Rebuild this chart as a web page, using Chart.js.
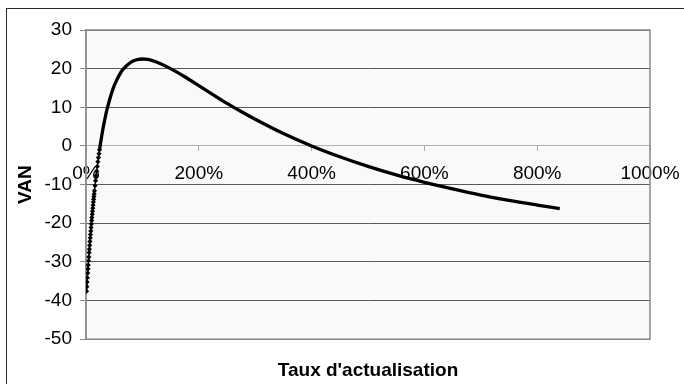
<!DOCTYPE html>
<html>
<head>
<meta charset="utf-8">
<script src="https://cdn.jsdelivr.net/npm/chart.js@4"></script>
<style>
  body { margin: 0; background: #fff; }
  #frame { position: absolute; left: 6px; top: 8px; width: 700px; height: 400px; border: 1.5px solid #2a2a2a; }
  #wrap { position: absolute; left: 0; top: 0; width: 684px; height: 384px; }
</style>
</head>
<body>
<div id="frame"></div>
<div id="wrap"><canvas id="chart"></canvas></div>
<script>
'use strict';

// taux d'actualisation (%) and VAN
const rates = [1, 1.5, 2, 2.5, 3, 3.5, 4, 4.5, 5, 5.5, 6, 6.5, 7, 7.5, 8, 8.5, 9, 9.5, 10, 10.5,
  11, 11.5, 12, 12.5, 13, 13.5, 14, 14.5, 15, 16, 17, 18, 19, 20, 21, 22, 23, 24, 25, 26,
  28, 30, 32, 34, 36, 38, 40, 45, 50, 55, 60, 65, 70, 80, 90, 100, 110, 125, 150, 175,
  200, 225, 250, 275, 300, 350, 400, 450, 500, 550, 600, 650, 700, 750, 800, 840];
const van = [-37.6, -36.4, -35.2, -34.1, -32.9, -31.8, -30.8, -29.7, -28.7, -27.6, -26.7, -25.7, -24.7, -23.8, -22.9, -22.0, -21.1, -20.2, -19.3, -18.5,
  -17.7, -16.9, -16.1, -15.3, -14.5, -13.8, -13.1, -12.4, -11.6, -10.3, -9.0, -7.7, -6.5, -5.3, -4.1, -3.0, -2.0, -1.0, 0, 0.9,
  2.7, 4.4, 5.9, 7.3, 8.7, 9.9, 11.0, 13.5, 15.6, 17.2, 18.6, 19.7, 20.5, 21.7, 22.3, 22.5, 22.4, 21.7, 20.0, 17.9,
  15.6, 13.3, 11.0, 8.9, 6.9, 3.2, 0, -2.8, -5.3, -7.5, -9.4, -11.1, -12.7, -14.1, -15.3, -16.2];

const xTicks = [0, 200, 400, 600, 800, 1000];
const yTicks = [-50, -40, -30, -20, -10, 0, 10, 20, 30];

const points = rates.map((r, i) => ({ x: r, y: van[i] }));
const steepEnd = 24;
const fontFamily = "'Liberation Sans', Arial, sans-serif";

const plotBox = {
  id: 'plotBox',
  beforeDraw(chart) {
    const a = chart.chartArea;
    const c = chart.ctx;
    c.save();
    c.fillStyle = '#f9f9f9';
    c.fillRect(a.left, a.top, a.width, a.height);
    c.restore();
  },
  beforeDatasetsDraw(chart) {
    const a = chart.chartArea;
    const c = chart.ctx;
    c.save();
    c.strokeStyle = '#8a8a8a';
    c.lineWidth = 1.5;
    c.strokeRect(a.left, a.top, a.width, a.height);
    c.restore();
  }
};

new Chart(document.getElementById('chart'), {
  type: 'line',
  data: {
    datasets: [{
      data: points,
      borderColor: '#000',
      backgroundColor: '#000',
      borderWidth: 3.3,
      cubicInterpolationMode: 'monotone',
      pointStyle: 'rectRot',
      pointRadius: ctx => (rates[ctx.dataIndex] <= steepEnd ? 2.6 : 0),
      pointBorderWidth: 0,
      segment: {
        borderWidth: ctx => (rates[ctx.p1DataIndex] <= steepEnd ? 1.3 : 3.3)
      }
    }]
  },
  options: {
    responsive: true,
    maintainAspectRatio: false,
    animation: false,
    layout: { padding: { left: 0, top: 30, right: 34, bottom: 0 } },
    plugins: {
      legend: { display: false },
      tooltip: { enabled: false },
      title: {
        display: true,
        position: 'bottom',
        fullSize: false,
        text: "Taux d'actualisation",
        color: '#000',
        font: { family: fontFamily, size: 19, weight: 'bold' },
        padding: { top: 20, bottom: 2 }
      }
    },
    scales: {
      x: {
        type: 'linear',
        position: { y: 0 },
        min: 0,
        max: 1000,
        afterBuildTicks: scale => { scale.ticks = xTicks.map(v => ({ value: v })); },
        afterFit: scale => { scale.paddingLeft = 0; scale.paddingRight = 0; },
        ticks: {
          callback: v => v + '%',
          color: '#000',
          font: { family: fontFamily, size: 19 },
          padding: 11,
          maxRotation: 0,
          autoSkip: false
        },
        grid: { drawOnChartArea: false, drawTicks: true, tickLength: 5, color: '#aaa' },
        border: { display: true, color: '#b0b0b0', width: 1 }
      },
      y: {
        min: -50,
        max: 30,
        afterBuildTicks: scale => { scale.ticks = yTicks.map(v => ({ value: v })); },
        afterFit: scale => { scale.width = 86; },
        ticks: {
          color: '#000',
          font: { family: fontFamily, size: 19 },
          padding: 8
        },
        grid: {
          color: ctx => (ctx.tick && ctx.tick.value === 0 ? '#b8b8b8' : '#5a5a5a'),
          tickColor: '#8a8a8a',
          tickLength: 6,
          lineWidth: 1
        },
        border: { display: true, color: '#999', width: 1.5 },
        title: {
          display: true,
          text: 'VAN',
          color: '#000',
          font: { family: fontFamily, size: 19, weight: 'bold' },
          padding: { top: 14, bottom: 0 }
        }
      }
    }
  },
  plugins: [plotBox]
});
</script>
</body>
</html>
